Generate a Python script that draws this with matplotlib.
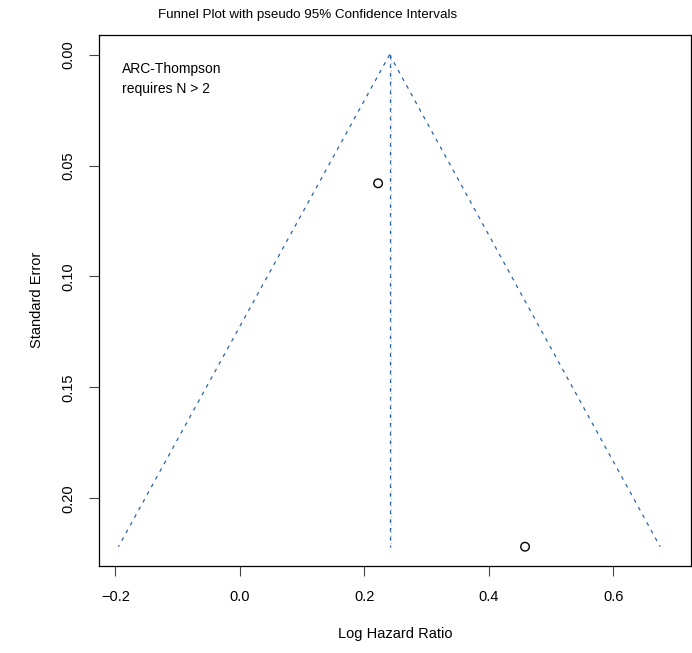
"""Funnel plot with pseudo 95% confidence limits."""

import matplotlib

matplotlib.use("Agg")
import matplotlib.pyplot as plt

plt.rcParams["font.family"] = ["Liberation Sans", "DejaVu Sans"]

# study estimates (log hazard ratio) and their standard errors
log_hr = [0.222, 0.458]
std_err = [0.058, 0.2218]

# pooled estimate and the pseudo 95% funnel limits at the largest SE
pooled = 0.2405
pooled_alt = 0.2432
se_top = 0.0
se_bottom = 0.2218
funnel_left = -0.195
funnel_right = 0.675

x_ticks = [-0.2, 0.0, 0.2, 0.4, 0.6]
y_ticks = [0.00, 0.05, 0.10, 0.15, 0.20]

LINE_BLUE = "#2a64a8"
LIGHT_BLUE = "#a9c9e8"

fig = plt.figure(figsize=(6.92, 6.53), dpi=100)
ax = fig.add_axes([0.1426, 0.1332, 0.8564, 0.8137])

ax.plot([pooled, funnel_left], [se_top, se_bottom], color=LINE_BLUE, linestyle=(0, (3, 4)), linewidth=0.9)
ax.plot([pooled, funnel_right], [se_top, se_bottom], color=LINE_BLUE, linestyle=(0, (3, 4)), linewidth=0.9)
ax.plot([pooled_alt, pooled_alt], [se_top, se_bottom], color=LIGHT_BLUE, linestyle=(0, (1, 2)), linewidth=0.9)
ax.plot([pooled, pooled], [se_top, se_bottom], color=LINE_BLUE, linestyle=(0, (3, 4)), linewidth=0.9)

ax.scatter(log_hr, std_err, s=38, facecolors="none", edgecolors="black", linewidths=1.0, zorder=3)

ax.set_xlim(-0.2267, 0.725)
ax.set_ylim(0.2305, -0.009)
ax.set_xticks(x_ticks)
ax.set_xticklabels(["\u22120.2", "0.0", "0.2", "0.4", "0.6"])
ax.set_yticks(y_ticks)
ax.set_yticklabels([f"{v:.2f}" for v in y_ticks], rotation=90, va="center")
ax.tick_params(axis="both", length=7, width=0.8, color="#444444", labelsize=10.5, pad=10)
for spine in ax.spines.values():
    spine.set_linewidth(0.9)

ax.set_xlabel("Log Hazard Ratio", fontsize=10.5, labelpad=17)
ax.set_ylabel("Standard Error", fontsize=10.5, labelpad=12)
fig.text(0.444, 0.977, "Funnel Plot with pseudo 95% Confidence Intervals", ha="center", va="center", fontsize=9.6)

ax.text(0.040, 0.949, "ARC-Thompson\nrequires N > 2", transform=ax.transAxes, ha="left", va="top",
        fontsize=10, linespacing=1.6)

fig.savefig("out.png", dpi=100)
plt.close(fig)
